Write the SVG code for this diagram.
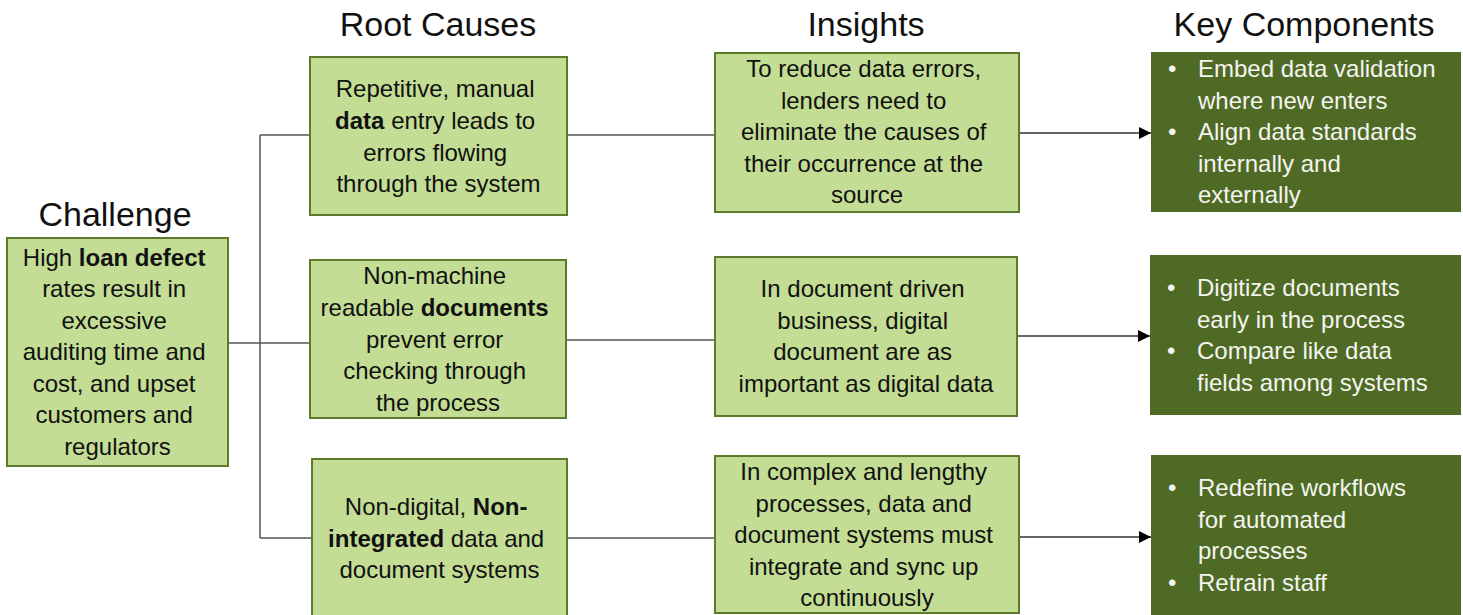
<svg xmlns="http://www.w3.org/2000/svg" width="1463" height="615" viewBox="0 0 1463 615">
  <defs>
    <style>
      .hdr { font-family: "Liberation Sans", Arial, sans-serif; font-size: 34px; fill: #111; text-anchor: middle; }
      .box { fill: #C4DD95; stroke: #5B7A2C; stroke-width: 2; }
      .dark { fill: #4F6A24; }
      .txt { font-family: "Liberation Sans", Arial, sans-serif; font-size: 24px; fill: #111; text-anchor: middle; }
      .wtxt { font-family: "Liberation Sans", Arial, sans-serif; font-size: 24px; fill: #F4F4F0; }
      .b { font-weight: bold; }
      .wire { fill: none; stroke: #555; stroke-width: 1.5; }
      .arrow { fill: none; stroke: #333; stroke-width: 1.5; marker-end: url(#tip); }
    </style>
    <marker id="tip" viewBox="0 0 10 10" refX="10" refY="5" markerWidth="12" markerHeight="12" markerUnits="userSpaceOnUse" orient="auto">
      <path d="M0,0 L10,5 L0,10 Z" fill="#000"/>
    </marker>
  </defs>

  <rect width="1463" height="615" fill="#fff"/>

  <!-- column headings -->
  <g id="headings">
    <text class="hdr" x="438" y="36">Root Causes</text>
    <text class="hdr" x="866" y="36">Insights</text>
    <text class="hdr" x="1304" y="36">Key Components</text>
    <text class="hdr" x="115" y="226">Challenge</text>
  </g>

  <!-- connectors -->
  <g id="connectors">
    <path class="wire" d="M228,343 H310"/>
    <path class="wire" d="M260,135 V538"/>
    <path class="wire" d="M260,135 H310"/>
    <path class="wire" d="M260,538 H312"/>
    <path class="wire" d="M567,135 H715"/>
    <path class="wire" d="M566,340 H715"/>
    <path class="wire" d="M567,538 H715"/>
    <path class="arrow" d="M1019,133 H1151"/>
    <path class="arrow" d="M1017,336 H1150"/>
    <path class="arrow" d="M1019,537 H1151"/>
  </g>

  <!-- challenge -->
  <g id="challenge">
    <rect class="box" x="7" y="238" width="221" height="228"/>
    <text class="txt">
      <tspan x="117.5" y="266">High <tspan class="b">loan defect</tspan></tspan>
      <tspan x="117.5" y="297">rates result in</tspan>
      <tspan x="117.5" y="329">excessive</tspan>
      <tspan x="117.5" y="360">auditing time and</tspan>
      <tspan x="117.5" y="392">cost, and upset</tspan>
      <tspan x="117.5" y="423">customers and</tspan>
      <tspan x="117.5" y="455">regulators</tspan>
    </text>
  </g>

  <!-- root causes -->
  <g id="cause-data">
    <rect class="box" x="310" y="57" width="257" height="158"/>
    <text class="txt">
      <tspan x="438.5" y="97">Repetitive, manual</tspan>
      <tspan x="438.5" y="129"><tspan class="b">data</tspan> entry leads to</tspan>
      <tspan x="438.5" y="161">errors flowing</tspan>
      <tspan x="438.5" y="192">through the system</tspan>
    </text>
  </g>
  <g id="cause-documents">
    <rect class="box" x="310" y="260" width="256" height="158"/>
    <text class="txt">
      <tspan x="438" y="284">Non-machine</tspan>
      <tspan x="438" y="316">readable <tspan class="b">documents</tspan></tspan>
      <tspan x="438" y="348">prevent error</tspan>
      <tspan x="438" y="379">checking through</tspan>
      <tspan x="438" y="411">the process</tspan>
    </text>
  </g>
  <g id="cause-integration">
    <rect class="box" x="312" y="459" width="255" height="170"/>
    <text class="txt">
      <tspan x="439.5" y="515">Non-digital, <tspan class="b">Non-</tspan></tspan>
      <tspan x="439.5" y="547"><tspan class="b">integrated</tspan> data and</tspan>
      <tspan x="439.5" y="578">document systems</tspan>
    </text>
  </g>

  <!-- insights -->
  <g id="insight-source">
    <rect class="box" x="715" y="53" width="304" height="159"/>
    <text class="txt">
      <tspan x="867" y="77">To reduce data errors,</tspan>
      <tspan x="867" y="109">lenders need to</tspan>
      <tspan x="867" y="140">eliminate the causes of</tspan>
      <tspan x="867" y="172">their occurrence at the</tspan>
      <tspan x="867" y="203">source</tspan>
    </text>
  </g>
  <g id="insight-digital">
    <rect class="box" x="715" y="257" width="302" height="159"/>
    <text class="txt">
      <tspan x="866" y="297">In document driven</tspan>
      <tspan x="866" y="329">business, digital</tspan>
      <tspan x="866" y="360">document are as</tspan>
      <tspan x="866" y="392">important as digital data</tspan>
    </text>
  </g>
  <g id="insight-sync">
    <rect class="box" x="715" y="456" width="304" height="157"/>
    <text class="txt">
      <tspan x="867" y="480">In complex and lengthy</tspan>
      <tspan x="867" y="512">processes, data and</tspan>
      <tspan x="867" y="543">document systems must</tspan>
      <tspan x="867" y="575">integrate and sync up</tspan>
      <tspan x="867" y="606">continuously</tspan>
    </text>
  </g>

  <!-- key components -->
  <g id="key-validation">
    <rect class="dark" x="1151" y="52" width="310" height="160"/>
    <text class="wtxt">
      <tspan x="1168" y="77">•</tspan><tspan x="1198" y="77">Embed data validation</tspan>
      <tspan x="1198" y="109">where new enters</tspan>
      <tspan x="1168" y="140">•</tspan><tspan x="1198" y="140">Align data standards</tspan>
      <tspan x="1198" y="172">internally and</tspan>
      <tspan x="1198" y="203">externally</tspan>
    </text>
  </g>
  <g id="key-digitize">
    <rect class="dark" x="1150" y="255" width="311" height="160"/>
    <text class="wtxt">
      <tspan x="1167" y="296">•</tspan><tspan x="1197" y="296">Digitize documents</tspan>
      <tspan x="1197" y="328">early in the process</tspan>
      <tspan x="1167" y="359">•</tspan><tspan x="1197" y="359">Compare like data</tspan>
      <tspan x="1197" y="391">fields among systems</tspan>
    </text>
  </g>
  <g id="key-workflow">
    <rect class="dark" x="1151" y="455" width="310" height="170"/>
    <text class="wtxt">
      <tspan x="1168" y="496">•</tspan><tspan x="1198" y="496">Redefine workflows</tspan>
      <tspan x="1198" y="528">for automated</tspan>
      <tspan x="1198" y="559">processes</tspan>
      <tspan x="1168" y="591">•</tspan><tspan x="1198" y="591">Retrain staff</tspan>
    </text>
  </g>
</svg>
